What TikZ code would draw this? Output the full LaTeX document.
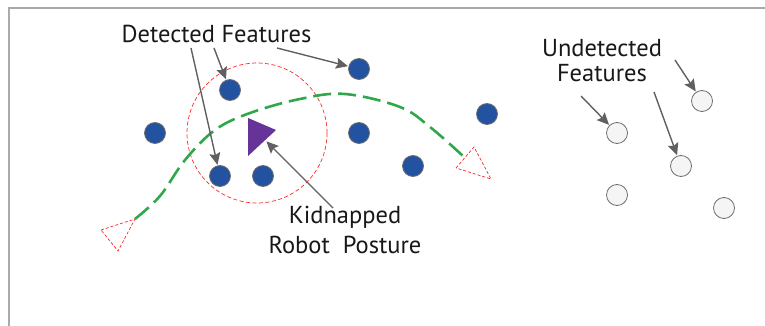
\documentclass[tikz,border=0pt]{standalone}
\usepackage{fontspec}
\setmainfont{PT Sans}
\newfontfamily\labelfont{PT Sans}
\usetikzlibrary{arrows.meta}
\definecolor{featblue}{HTML}{2352A0}
\definecolor{featedge}{HTML}{6E6E6E}
\definecolor{pathgreen}{HTML}{2EA84A}
\definecolor{robotpurple}{HTML}{663399}
\definecolor{arrowgray}{HTML}{606060}
\definecolor{framegray}{HTML}{AAAAAA}
\definecolor{txt}{HTML}{1A1718}
\tikzset{
  detected/.style={circle, draw=featedge, line width=0.8pt, fill=featblue, minimum size=21pt, inner sep=0pt},
  undetected/.style={circle, draw=featedge, line width=0.8pt, fill=gray!8, minimum size=21pt, inner sep=0pt},
  pointer/.style={draw=arrowgray, line width=1.4pt, -{Stealth[length=12pt,width=11pt,inset=2pt]}, shorten >=0.5pt},
  label/.style={text=txt, align=center, inner sep=0pt},
  posebox/.style={draw=red!85, line width=0.7pt, dash pattern=on 3pt off 2pt, fill=white},
}
\begin{document}
\begin{tikzpicture}[x=1pt, y=-1pt]
  \useasboundingbox (0,0) rectangle (765,326);
  % frame
  \draw[framegray, line width=2pt] (765,8) -- (9,8) -- (9,326);

  % sensing range of the robot
  \draw[red!85, line width=0.7pt, dash pattern=on 4pt off 2.5pt] (257,133) circle (70);

  % robot trajectory
  \draw[pathgreen, line width=2.6pt, dash pattern=on 18pt off 7pt]
    plot[smooth, tension=0.6] coordinates {(135,219) (160,196) (185,160) (215,130) (250,113) (300,99) (345,94) (400,107) (430,127) (463,156)};

  % start and end poses
  \draw[posebox] (101,230) -- (135,219) -- (118,251) -- cycle;
  \draw[posebox] (456,168) -- (474,147) -- (491,179) -- cycle;

  % detected features
  \node[detected] (d1) at (230,90) {};
  \node[detected] (d2) at (359,69) {};
  \node[detected] (d3) at (155,133) {};
  \node[detected] (d4) at (359,133) {};
  \node[detected] (d5) at (220,176) {};
  \node[detected] (d6) at (263,176) {};
  \node[detected] (d7) at (487,114) {};
  \node[detected] (d8) at (413,166) {};

  % undetected features
  \node[undetected] (u1) at (617,133) {};
  \node[undetected] (u2) at (702,101) {};
  \node[undetected] (u3) at (681,166) {};
  \node[undetected] (u4) at (617,195) {};
  \node[undetected] (u5) at (724,208) {};

  % kidnapped robot
  \fill[robotpurple] (248,118) -- (276,130) -- (248,156) -- cycle;
  \coordinate (robot) at (266,141);

  % labels (base anchor sits on the last line)
  \node[label, anchor=base, font=\labelfont\fontsize{24.5}{25}\selectfont] (lblDet) at (216.5,43) {Detected Features};
  \node[label, anchor=base, font=\labelfont\fontsize{24.5}{25}\selectfont] (lblUnd) at (602,82) {Undetected\\Features};
  \node[label, anchor=base, font=\labelfont\fontsize{24.5}{30}\selectfont] (lblKid) at (345,253) {Kidnapped\\Robot\ \ Posture};

  % pointer origins
  \coordinate (p1) at (191,48);
  \coordinate (p2) at (214,48);
  \coordinate (p3) at (277,48);
  \coordinate (p4) at (333,208);
  \coordinate (p5) at (581,96);
  \coordinate (p6) at (654,92);
  \coordinate (p7) at (675,60);

  \draw[pointer] (p1) -- (d5);
  \draw[pointer] (p2) -- (d1);
  \draw[pointer] (p3) -- (d2);
  \draw[pointer] (p4) -- (robot);
  \draw[pointer] (p5) -- (u1);
  \draw[pointer] (p6) -- (u3);
  \draw[pointer] (p7) -- (u2);
\end{tikzpicture}
\end{document}
